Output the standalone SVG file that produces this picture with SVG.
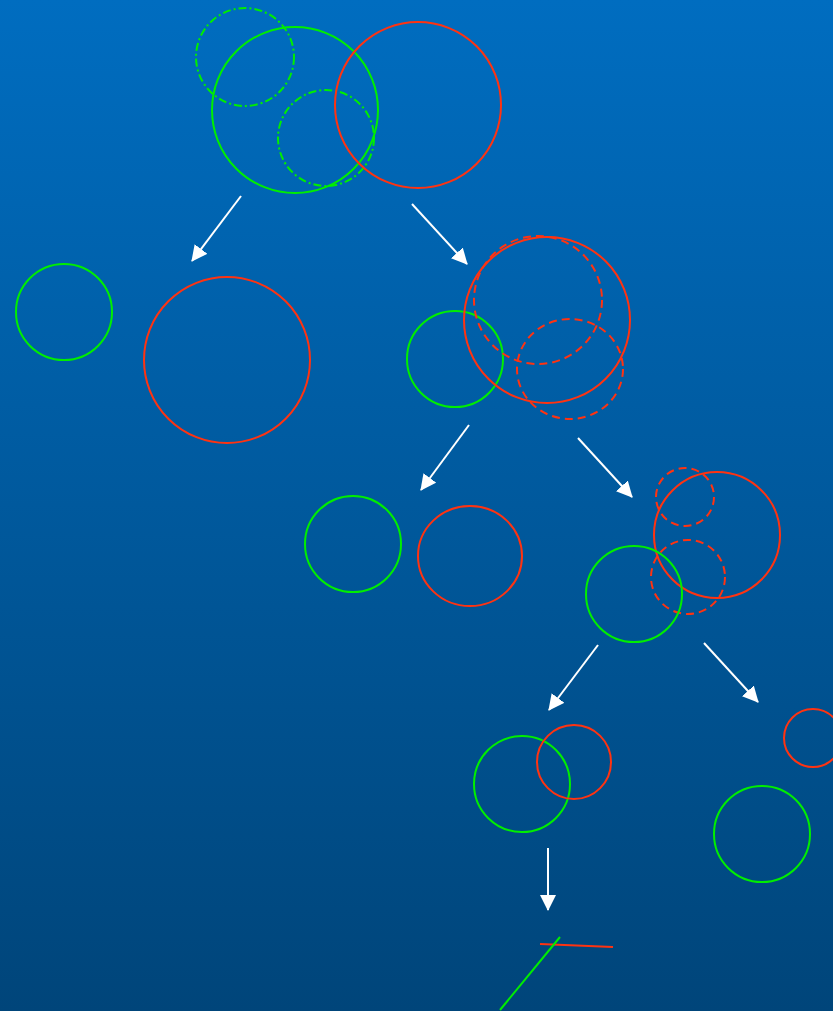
<svg xmlns="http://www.w3.org/2000/svg" width="833" height="1011" viewBox="0 0 833 1011">
<defs>
<linearGradient id="bg" x1="0" y1="0" x2="0" y2="1">
<stop offset="0" stop-color="#006DC0"/>
<stop offset="1" stop-color="#00457A"/>
</linearGradient>
<marker id="ah" markerUnits="userSpaceOnUse" markerWidth="16" markerHeight="16" viewBox="0 0 16 16" refX="15" refY="8" orient="auto">
<path d="M0,0 L16,8 L0,16 Z" fill="#FFFFFF"/>
</marker>
<style>
.g{fill:none;stroke:#00EE00;stroke-width:2}
.r{fill:none;stroke:#FF3311;stroke-width:2}
.dd{stroke-dasharray:8,3,2,3}
.da{stroke-dasharray:8,5}
.a{stroke:#FFFFFF;stroke-width:2;fill:none;marker-end:url(#ah)}
</style>
</defs>
<rect x="0" y="0" width="833" height="1011" fill="url(#bg)"/>
<g id="node-top">
<circle class="g dd" cx="245" cy="57" r="49"/>
<circle class="g" cx="295" cy="110" r="83"/>
<circle class="g dd" cx="326" cy="138" r="48"/>
<circle class="r" cx="418" cy="105" r="83"/>
</g>
<g id="node-l2-left">
<circle class="g" cx="64" cy="312" r="48"/>
<circle class="r" cx="227" cy="360" r="83"/>
</g>
<g id="node-l2-right">
<circle class="g" cx="455" cy="359" r="48"/>
<circle class="r" cx="547" cy="320" r="83"/>
<circle class="r da" cx="538" cy="300" r="64"/>
<ellipse class="r da" cx="570" cy="369" rx="53" ry="50"/>
</g>
<g id="node-l3-left">
<circle class="g" cx="353" cy="544" r="48"/>
<ellipse class="r" cx="470" cy="556" rx="52" ry="50"/>
</g>
<g id="node-l3-right">
<circle class="r" cx="717" cy="535" r="63"/>
<circle class="r da" cx="685" cy="497" r="29"/>
<circle class="r da" cx="688" cy="577" r="37"/>
<circle class="g" cx="634" cy="594" r="48"/>
</g>
<g id="node-l4-left">
<circle class="g" cx="522" cy="784" r="48"/>
<circle class="r" cx="574" cy="762" r="37"/>
</g>
<g id="node-l4-right">
<circle class="r" cx="813" cy="738" r="29"/>
<circle class="g" cx="762" cy="834" r="48"/>
</g>
<g id="node-l5">
<line x1="540" y1="944" x2="613" y2="947" stroke="#FF3311" stroke-width="2"/>
<line x1="560" y1="937" x2="500" y2="1010" stroke="#00EE00" stroke-width="2"/>
</g>
<g id="connectors">
<line class="a" x1="241" y1="196" x2="192" y2="261"/>
<line class="a" x1="412" y1="204" x2="467" y2="264"/>
<line class="a" x1="469" y1="425" x2="421" y2="490"/>
<line class="a" x1="578" y1="438" x2="632" y2="497"/>
<line class="a" x1="598" y1="645" x2="549" y2="710"/>
<line class="a" x1="704" y1="643" x2="758" y2="702"/>
<line class="a" x1="548" y1="848" x2="548" y2="910"/>
</g>
</svg>
